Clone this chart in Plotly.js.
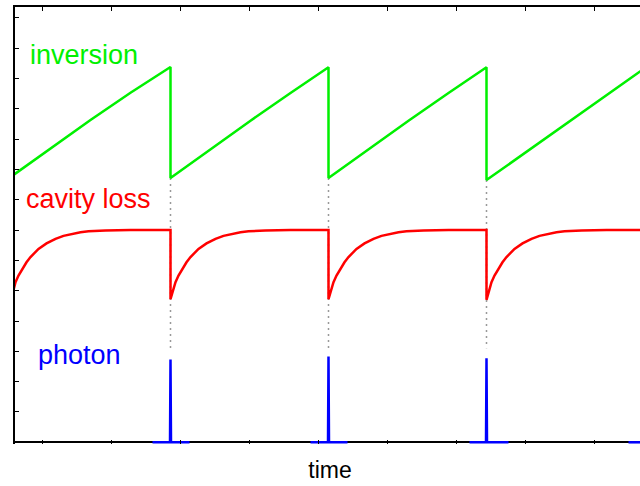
<!DOCTYPE html>
<html>
<head>
<meta charset="utf-8">
<script src="https://cdn.plot.ly/plotly-3.0.1.min.js"></script>
<style>
html, body { margin: 0; padding: 0; overflow: hidden; background: #fff; }
#chart { width: 645px; height: 486px; }
</style>
</head>
<body>
<div id="chart"></div>
<script>
// ---- data (time in arbitrary units, signal levels in arbitrary units) ----
var tInversion = [0, 37, 77, 117, 157, 157, 197, 237, 277, 315, 315, 355, 395, 435, 473, 473, 515, 555, 595, 632];
var inversion  = [8.82, 9.70, 10.63, 11.53, 12.38, 8.72, 9.68, 10.61, 11.52, 12.37, 8.72, 9.68, 10.61, 11.52, 12.37, 8.65, 9.63, 10.58, 11.50, 12.36];

var tLoss = [0, 2, 5, 9, 13, 17, 21, 25, 33, 42, 50, 59, 67, 75, 92, 117, 157,
             157, 159, 162, 165, 169, 173, 177, 181, 185, 193, 202, 210, 219, 227, 235, 252, 277, 315,
             315, 317, 320, 323, 327, 331, 335, 339, 343, 351, 360, 368, 377, 385, 393, 410, 435, 473,
             473, 475, 478, 481, 485, 489, 493, 497, 501, 509, 518, 526, 535, 543, 551, 568, 593, 632];
var cavityLoss = [5.02, 5.28, 5.50, 5.73, 5.94, 6.11, 6.25, 6.38, 6.56, 6.71, 6.81, 6.88, 6.93, 6.96, 6.99, 7.00, 7.00,
                  4.72, 4.97, 5.28, 5.50, 5.73, 5.94, 6.11, 6.25, 6.38, 6.56, 6.71, 6.81, 6.88, 6.93, 6.96, 6.99, 7.00, 7.00,
                  4.72, 4.97, 5.28, 5.50, 5.73, 5.94, 6.11, 6.25, 6.38, 6.56, 6.71, 6.81, 6.88, 6.93, 6.96, 6.99, 7.00, 7.00,
                  4.70, 4.97, 5.28, 5.50, 5.73, 5.94, 6.11, 6.25, 6.38, 6.56, 6.71, 6.81, 6.88, 6.93, 6.96, 6.99, 7.00, 7.00];

var tPhoton = [139, 156.5, 157, 157.5, 176, null,
               297, 314.5, 315, 315.5, 334, null,
               456, 472.5, 473, 473.5, 495, null,
               615, 632];
var photon  = [0, 0, 2.73, 0, 0, null,
               0, 0, 2.83, 0, 0, null,
               0, 0, 2.77, 0, 0, null,
               0, 0];

var pulseTimes = [157, 315, 473];
var guideTop = [8.72, 8.72, 8.65];
var guideBottom = [3.10, 3.10, 3.10];

var seriesLabels = ['inversion', 'cavity loss', 'photon'];
var seriesColors = ['#00f000', '#ff0000', '#0000ff'];
var xTitle = 'time';

// ---- build ----
var gx = [], gy = [];
for (var i = 0; i < pulseTimes.length; i++) {
  gx.push(pulseTimes[i], pulseTimes[i], null);
  gy.push(guideTop[i], guideBottom[i], null);
}

var traces = [
  {x: gx, y: gy, type: 'scatter', mode: 'lines', hoverinfo: 'skip',
   line: {color: '#999999', width: 1.5, dash: '2px,4px'}},
  {x: tInversion, y: inversion, type: 'scatter', mode: 'lines',
   line: {color: seriesColors[0], width: 2.5}},
  {x: tLoss, y: cavityLoss, type: 'scatter', mode: 'lines',
   line: {color: seriesColors[1], width: 2.5}},
  {x: tPhoton, y: photon, type: 'scatter', mode: 'lines', connectgaps: false,
   line: {color: seriesColors[2], width: 2.5}},
  {x: [], y: [], xaxis: 'x2', type: 'scatter', mode: 'lines'}
];

var labelFont = {family: 'Liberation Sans, Arial, sans-serif', size: 27};
var layout = {
  width: 645, height: 486,
  margin: {l: 15, r: 0, t: 7, b: 42, pad: 0},
  paper_bgcolor: '#ffffff', plot_bgcolor: '#ffffff',
  showlegend: false,
  xaxis: {
    range: [1.5, 631.5], side: 'top', showline: true, linecolor: '#000', linewidth: 2,
    showgrid: false, zeroline: false, ticks: 'inside', ticklen: 4, tickcolor: '#000',
    tick0: 29, dtick: 69, showticklabels: false
  },
  xaxis2: {
    range: [1.5, 631.5], overlaying: 'x', side: 'bottom', showline: false,
    showgrid: false, zeroline: false, ticks: 'inside', ticklen: 4, tickcolor: '#000',
    tick0: 29, dtick: 69, showticklabels: false,
    title: {text: xTitle, font: {family: 'Liberation Sans, Arial, sans-serif', size: 23, color: '#000'}, standoff: 17}
  },
  yaxis: {
    range: [-0.056, 14.36], showline: true, linecolor: '#000', linewidth: 2,
    showgrid: false, zeroline: true, zerolinecolor: '#000', zerolinewidth: 2,
    ticks: 'inside', ticklen: 4, tickcolor: '#000', tick0: 0, dtick: 1,
    showticklabels: false
  },
  annotations: [
    {text: seriesLabels[0], x: 15, y: 12.77, xref: 'x', yref: 'y', xanchor: 'left', yanchor: 'middle',
     showarrow: false, borderpad: 0, font: Object.assign({color: seriesColors[0]}, labelFont)},
    {text: seriesLabels[1], x: 11.5, y: 8.04, xref: 'x', yref: 'y', xanchor: 'left', yanchor: 'middle',
     showarrow: false, borderpad: 0, font: Object.assign({color: seriesColors[1]}, labelFont)},
    {text: seriesLabels[2], x: 23, y: 2.89, xref: 'x', yref: 'y', xanchor: 'left', yanchor: 'middle',
     showarrow: false, borderpad: 0, font: Object.assign({color: seriesColors[2]}, labelFont)}
  ]
};

Plotly.newPlot('chart', traces, layout, {displayModeBar: false, staticPlot: true});
</script>
</body>
</html>
